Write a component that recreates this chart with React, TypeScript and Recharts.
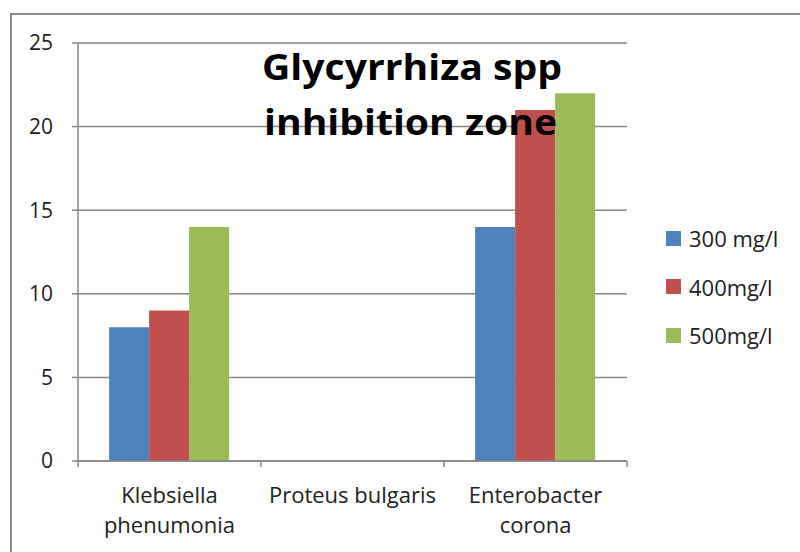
import React from 'react';
import { BarChart, Bar, XAxis, YAxis, CartesianGrid } from 'recharts';

// Inhibition zone (mm) per bacterium and concentration
const categories = ['Klebsiella phenumonia', 'Proteus bulgaris', 'Enterobacter corona'];
const categoryLines = [['Klebsiella', 'phenumonia'], ['Proteus bulgaris'], ['Enterobacter', 'corona']];
const series300 = [8, 0, 14];
const series400 = [9, 0, 21];
const series500 = [14, 0, 22];
const seriesNames = ['300 mg/l', '400mg/l', '500mg/l'];
const seriesColors = ['#4F81BD', '#C0504D', '#9BBB59'];
const yTicks = [0, 5, 10, 15, 20, 25];
const titleLines = ['Glycyrrhiza spp', 'inhibition zone'];

const chartData = categories.map((name, i) => ({
  name,
  s300: series300[i],
  s400: series400[i],
  s500: series500[i],
}));

const FONT = '"Open Sans", "Liberation Sans", sans-serif';
const GRID = '#868686';
const W = 800;
const H = 552;
const margin = { top: 43, right: 173, bottom: 0, left: 0 };
const Y_AXIS_W = 78;
const X_AXIS_H = 91;
const bandW = (W - margin.left - margin.right - Y_AXIS_W) / categories.length;

const XTick = (props: any) => {
  const { x, y, index } = props;
  const lines = categoryLines[index] || [String(props.payload?.value)];
  const last = index === categories.length - 1;
  return (
    <g>
      <line x1={x - bandW / 2} x2={x - bandW / 2} y1={y} y2={y + 6} stroke={GRID} strokeWidth={1.5} />
      {last && <line x1={x + bandW / 2} x2={x + bandW / 2} y1={y} y2={y + 6} stroke={GRID} strokeWidth={1.5} />}
      {lines.map((t: string, k: number) => (
        <text key={k} x={x} y={y + 42 + k * 30} textAnchor="middle" fill="#222" fontSize={22} fontFamily={FONT}>
          {t}
        </text>
      ))}
    </g>
  );
};

const LegendBox = () => (
  <div style={{ position: 'absolute', left: 666, top: 214, fontFamily: FONT, fontSize: 22, color: '#222' }}>
    {seriesNames.map((n, i) => (
      <div key={n} style={{ display: 'flex', alignItems: 'center', height: 48.5 }}>
        <span style={{ width: 15, height: 15, background: seriesColors[i], display: 'inline-block', marginRight: 8 }} />
        <span>{n}</span>
      </div>
    ))}
  </div>
);

export default function App() {
  return (
    <div style={{ position: 'absolute', left: 0, top: 0, width: W, height: H, overflow: 'hidden', background: '#fff', fontFamily: FONT }}>
      <div style={{ position: 'absolute', left: 10, top: 13, width: W, height: H, border: '2px solid #8a8a8a' }} />
      <div style={{ position: 'absolute', left: 0, top: 0 }}>
        <BarChart width={W} height={H} data={chartData} margin={margin} barCategoryGap="17%" barGap={0}>
          <CartesianGrid vertical={false} stroke={GRID} strokeWidth={1.5} />
          <XAxis
            dataKey="name"
            height={X_AXIS_H}
            axisLine={{ stroke: GRID, strokeWidth: 1.5 }}
            tickLine={false}
            tickSize={0}
            tickMargin={0}
            tick={<XTick />}
            interval={0}
          />
          <YAxis
            width={Y_AXIS_W}
            domain={[0, 25]}
            ticks={yTicks}
            axisLine={{ stroke: GRID, strokeWidth: 1.5 }}
            tickLine={{ stroke: GRID, strokeWidth: 1.5 }}
            tickSize={6}
            tickMargin={19}
            tick={{ fill: '#222', fontSize: 21, fontFamily: FONT }}
          />
          <Bar dataKey="s300" name={seriesNames[0]} fill={seriesColors[0]} isAnimationActive={false} />
          <Bar dataKey="s400" name={seriesNames[1]} fill={seriesColors[1]} isAnimationActive={false} />
          <Bar dataKey="s500" name={seriesNames[2]} fill={seriesColors[2]} isAnimationActive={false} />
        </BarChart>
      </div>
      <LegendBox />
      <svg width={W} height={H} style={{ position: 'absolute', left: 0, top: 0, pointerEvents: 'none' }}>
        <text x={262} y={80} fontSize={35} fontWeight="bold" fontFamily={FONT} fill="#000" textLength={300} lengthAdjust="spacingAndGlyphs">
          {titleLines[0]}
        </text>
        <text x={264} y={135} fontSize={35} fontWeight="bold" fontFamily={FONT} fill="#000" textLength={293} lengthAdjust="spacingAndGlyphs">
          {titleLines[1]}
        </text>
      </svg>
    </div>
  );
}
